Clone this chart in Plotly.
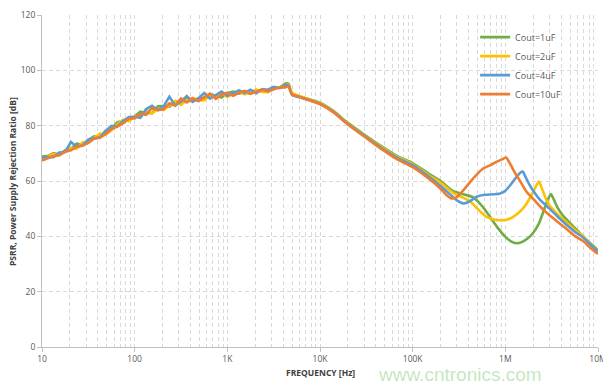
import plotly.graph_objects as go

# ---------------- data ----------------
f_low = [10, 11.5, 13.3, 15.4, 17.8, 20.5, 23.7, 27.4, 31.6, 36.5, 42.2, 48.7, 56.2, 64.9, 75, 86.6,
         100, 115, 133, 154, 178, 205, 237, 274, 316, 365, 422, 487, 562, 649, 750, 866,
         1000, 1155, 1334, 1540, 1778, 2054, 2371, 2738, 3162, 3652, 4217]
f_mid = [4600, 5000, 6000, 8000, 10000, 14000, 20000, 30000, 45000, 70000, 100000]

green_low = [68.8, 69.0, 70.1, 69.6, 71.1, 71.7, 73.5, 73.1, 74.8, 76.1, 75.9, 78.2, 78.7, 81.3, 81.7, 82.0,
             83.3, 85.1, 84.6, 84.5, 87.0, 87.1, 86.8, 88.8, 88.6, 90.3, 88.9, 89.9, 90.1, 91.3, 90.9, 90.2,
             91.7, 92.3, 91.6, 92.2, 91.6, 92.9, 92.6, 92.9, 93.6, 93.7, 95.2]
yellow_low = [67.8, 68.9, 69.8, 69.4, 70.7, 72.0, 71.7, 74.0, 73.9, 75.4, 77.1, 76.8, 78.3, 80.5, 82.2, 81.6,
              83.4, 83.2, 85.4, 84.4, 86.1, 85.6, 87.4, 89.0, 87.5, 89.2, 90.0, 89.2, 89.1, 90.9, 90.7, 91.8,
              90.4, 91.6, 92.3, 91.3, 92.2, 93.0, 92.2, 92.1, 93.5, 93.8, 94.6]
blue_low = [68.4, 68.7, 68.6, 70.3, 70.5, 74.1, 72.4, 72.9, 75.0, 75.4, 75.8, 78.1, 79.9, 79.7, 81.7, 83.1,
            83.2, 82.8, 86.0, 87.2, 85.6, 87.0, 90.5, 87.2, 88.7, 90.7, 88.6, 89.8, 91.8, 89.8, 91.2, 92.3,
            90.8, 91.7, 92.7, 91.9, 93.0, 91.7, 93.2, 93.0, 94.0, 93.6, 94.6]
orange_low = [67.4, 68.3, 69.0, 69.3, 70.6, 71.1, 72.4, 72.7, 73.8, 75.3, 75.6, 77.0, 78.8, 79.7, 80.8, 82.6,
              82.6, 84.3, 83.9, 86.4, 85.6, 85.9, 88.1, 87.3, 89.8, 88.4, 89.8, 88.9, 90.1, 91.6, 89.7, 91.1,
              91.9, 90.8, 91.9, 92.6, 91.5, 92.2, 93.0, 92.4, 93.2, 93.9, 93.8]

green_mid = [95.3, 91.6, 90.6, 89.4, 88.3, 85.3, 81.0, 76.8, 72.8, 68.8, 66.5]
yellow_mid = [95.0, 91.8, 90.7, 89.2, 88.1, 85.1, 80.8, 76.6, 72.5, 68.5, 66.1]
blue_mid = [94.7, 91.1, 90.3, 89.0, 87.9, 85.0, 80.6, 76.4, 72.2, 68.2, 65.7]
orange_mid = [94.4, 91.3, 90.4, 89.0, 87.8, 84.8, 80.4, 76.1, 71.8, 67.6, 65.0]

green_f_hi = [150e3, 200e3, 275e3, 370e3, 450e3, 570e3, 700e3, 810e3, 1.0e6, 1.15e6, 1.32e6, 1.5e6, 1.75e6,
              2.0e6, 2.3e6, 2.57e6, 2.85e6, 3.1e6, 3.35e6, 3.65e6, 4.1e6, 4.6e6, 5.5e6, 6.9e6, 8.3e6, 10e6]
green_hi = [62.6, 60.0, 56.3, 55.0, 54.1, 50.7, 46.5, 43.5, 39.8, 38.2, 37.5, 37.9, 39.3,
            41.3, 44.6, 48.9, 53.0, 55.3, 53.2, 50.5, 47.9, 46.0, 43.3, 40.0, 37.4, 35.0]

yellow_f_hi = [150e3, 200e3, 275e3, 350e3, 420e3, 500e3, 620e3, 750e3, 880e3, 1.0e6, 1.15e6, 1.32e6, 1.5e6,
               1.7e6, 1.85e6, 2.0e6, 2.15e6, 2.3e6, 2.5e6, 2.75e6, 3.0e6, 3.6e6, 4.6e6, 5.5e6, 6.9e6, 8.3e6, 10e6]
yellow_hi = [62.0, 59.4, 55.6, 54.0, 52.5, 50.0, 47.1, 46.1, 45.8, 45.9, 46.6, 47.9, 49.6,
             51.9, 54.0, 56.1, 58.2, 59.8, 57.0, 53.5, 51.2, 48.2, 45.0, 42.6, 40.0, 37.1, 34.6]

blue_f_hi = [150e3, 200e3, 260e3, 300e3, 350e3, 400e3, 490e3, 600e3, 750e3, 880e3, 1.0e6, 1.13e6, 1.32e6,
             1.45e6, 1.54e6, 1.65e6, 1.8e6, 2.0e6, 2.4e6, 3.0e6, 3.7e6, 4.6e6, 5.7e6, 6.9e6, 8.3e6, 10e6]
blue_hi = [61.5, 58.2, 54.8, 53.0, 51.9, 52.4, 54.3, 55.0, 55.2, 55.5, 56.5, 58.5, 61.5,
           63.0, 63.4, 61.5, 59.0, 56.5, 53.0, 50.0, 47.0, 44.1, 41.5, 39.6, 37.0, 34.5]

orange_f_hi = [150e3, 200e3, 230e3, 260e3, 300e3, 350e3, 420e3, 500e3, 580e3, 700e3, 810e3, 920e3, 1.02e6,
               1.1e6, 1.2e6, 1.32e6, 1.44e6, 1.7e6, 2.0e6, 2.5e6, 3.0e6, 3.8e6, 4.6e6, 5.7e6, 6.9e6, 8.3e6, 10e6]
orange_hi = [60.8, 57.2, 55.0, 53.7, 54.2, 56.5, 59.8, 62.6, 64.6, 65.8, 67.0, 67.8, 68.5,
             66.8, 64.5, 62.0, 60.0, 56.0, 53.5, 50.0, 47.6, 44.8, 42.6, 40.0, 38.3, 35.8, 33.6]

series_names = ["Cout=1uF", "Cout=2uF", "Cout=4uF", "Cout=10uF"]
x_tick_vals = [10, 100, 1000, 10000, 100000, 1000000, 10000000]
x_tick_text = ["10", "100", "1K", "10K", "100K", "1M", "10M"]
y_tick_vals = [0, 20, 40, 60, 80, 100, 120]

# ---------------- figure ----------------
colors = ["#70AD47", "#FFC000", "#5B9BD5", "#ED7D31"]
series = [
    (green_low, green_mid, green_hi, green_f_hi),
    (yellow_low, yellow_mid, yellow_hi, yellow_f_hi),
    (blue_low, blue_mid, blue_hi, blue_f_hi),
    (orange_low, orange_mid, orange_hi, orange_f_hi),
]

fig = go.Figure()
for (lo, mid, hi, fhi), name, col in zip(series, series_names, colors):
    # noisy low-frequency segment (straight segments)
    fig.add_trace(go.Scatter(
        x=f_low + f_mid[:1], y=lo + mid[:1], mode="lines", name=name, legendgroup=name,
        showlegend=False, line=dict(color=col, width=2.6),
    ))
    # smooth high-frequency segment
    fig.add_trace(go.Scatter(
        x=f_mid + fhi, y=mid + hi, mode="lines", name=name, legendgroup=name,
        line=dict(color=col, width=2.6, shape="spline", smoothing=0.6),
    ))

minor_vals = [m * 10 ** d for d in range(1, 7) for m in range(2, 10)]

grid_col = "#d9d9d9"
# the page body adds an 8px offset, margins compensate for it
fig.update_layout(
    width=611, height=387,
    margin=dict(l=34, r=21, t=7, b=48, autoexpand=False),
    paper_bgcolor="white", plot_bgcolor="white",
    font=dict(family="Open Sans, sans-serif", size=9, color="#595959"),
    xaxis=dict(
        type="log", range=[1, 7], automargin=False,
        tickvals=x_tick_vals, ticktext=x_tick_text,
        showgrid=True, gridcolor=grid_col, griddash="4px,3px", gridwidth=1,
        minor=dict(tickvals=minor_vals, showgrid=True, gridcolor=grid_col, griddash="4px,3px", gridwidth=1),
        showline=True, linecolor="#bfbfbf", linewidth=1,
        ticks="outside", ticklen=4, tickcolor="#bfbfbf",
        tickfont=dict(size=8.5, color="#595959"),
        zeroline=False,
    ),
    yaxis=dict(
        range=[0, 120], tickvals=y_tick_vals, automargin=False,
        showgrid=True, gridcolor=grid_col, griddash="4px,3px", gridwidth=1,
        showline=True, linecolor="#bfbfbf", linewidth=1,
        ticks="outside", ticklen=4, tickcolor="#bfbfbf",
        tickfont=dict(size=8.5, color="#595959"),
        zeroline=False,
    ),
    legend=dict(
        x=0.779, y=0.977, xanchor="left", yanchor="top",
        bgcolor="rgba(255,255,255,0)",
        font=dict(size=9, color="#595959"),
        tracegroupgap=0, itemwidth=30,
    ),
    showlegend=True,
)

fig.add_annotation(
    text="<b>PSRR, Power Supply Rejection Ratio [dB]</b>", textangle=-90,
    xref="paper", yref="paper", x=-0.054, y=0.5, xanchor="center", yanchor="middle",
    showarrow=False, font=dict(size=8.5, color="#404040"),
)
fig.add_annotation(
    text="<b>FREQUENCY [Hz]</b>",
    xref="paper", yref="paper", x=0.5, y=-0.077, xanchor="center", yanchor="middle",
    showarrow=False, font=dict(size=8.5, color="#404040"),
)
fig.add_annotation(
    text="www.cntronics.com", xref="paper", yref="paper", x=0.752, y=-0.082,
    xanchor="center", yanchor="middle", showarrow=False,
    font=dict(family="Liberation Sans, Arial, sans-serif", size=19, color="rgba(120,200,110,0.45)"),
)

fig.write_html("out.html")
